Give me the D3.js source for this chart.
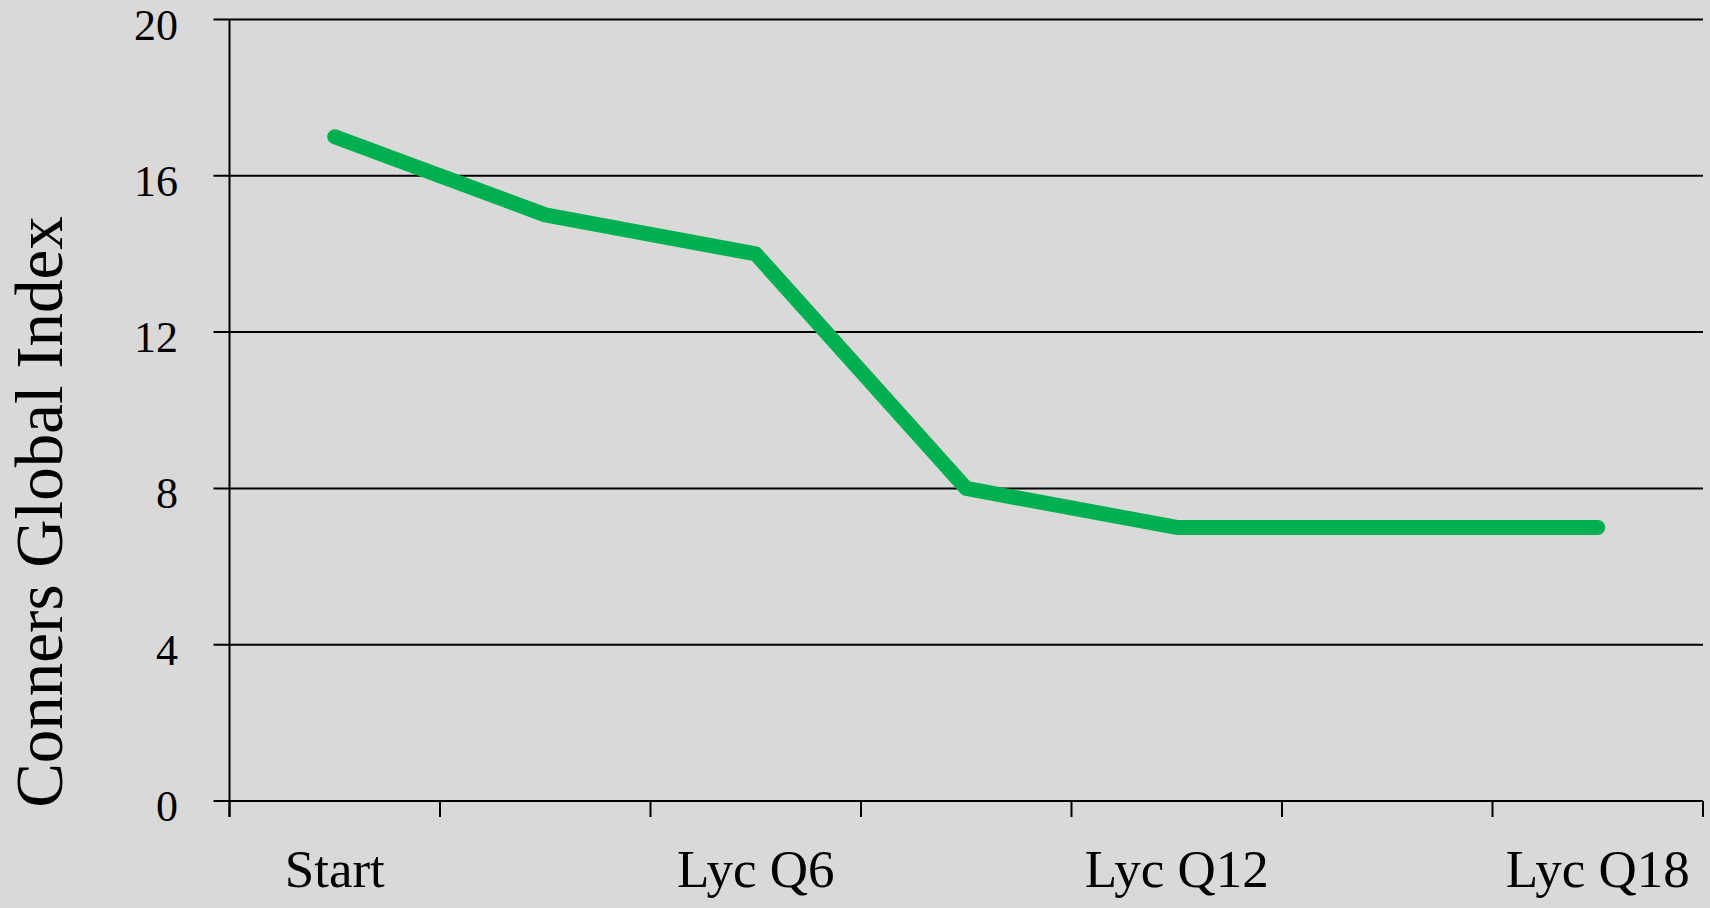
<!DOCTYPE html>
<html>
<head>
<meta charset="utf-8">
<script src="https://cdn.jsdelivr.net/npm/d3@7"></script>
<style>
  html, body { margin: 0; padding: 0; background: #d9d9d9; }
  svg text { font-family: "Liberation Serif", "Times New Roman", serif; fill: #000; }
</style>
</head>
<body>
<svg id="chart"></svg>
<script>
const categories = ["Start", "Lyc Q3", "Lyc Q6", "Lyc Q9", "Lyc Q12", "Lyc Q15", "Lyc Q18"];
const shownLabels = ["Start", "Lyc Q6", "Lyc Q12", "Lyc Q18"];
const conners = [17, 15, 14, 8, 7, 7, 7];
const yTicks = [0, 4, 8, 12, 16, 20];

const width = 1710;
const height = 908;
const plotLeft = 229.5;
const plotRight = 1703;
const plotTop = 19.5;
const plotBottom = 801;

const svg = d3.select("#chart")
  .attr("width", width)
  .attr("height", height)
  .style("display", "block");

svg.append("rect")
  .attr("width", width)
  .attr("height", height)
  .attr("fill", "#d9d9d9");

const x = d3.scaleBand()
  .domain(categories)
  .range([plotLeft, plotRight])
  .padding(0);

const y = d3.scaleLinear()
  .domain([0, 20])
  .range([plotBottom, plotTop]);

// horizontal gridlines, sticking out left like outer ticks
svg.append("g")
  .selectAll("line")
  .data(yTicks)
  .enter().append("line")
    .attr("x1", plotLeft - 16)
    .attr("x2", plotRight)
    .attr("y1", d => y(d))
    .attr("y2", d => y(d))
    .attr("stroke", "#000")
    .attr("stroke-width", 2);

// y tick labels (original uses old-style figures, so they sit a bit low)
svg.append("g")
  .selectAll("text")
  .data(yTicks)
  .enter().append("text")
    .attr("x", 178)
    .attr("y", d => y(d) + 20)
    .attr("text-anchor", "end")
    .style("font-size", "44px")
    .text(d => d);

// vertical axis
svg.append("line")
  .attr("x1", plotLeft).attr("x2", plotLeft)
  .attr("y1", plotTop).attr("y2", plotBottom + 16)
  .attr("stroke", "#000")
  .attr("stroke-width", 2);

// category tick marks at band edges
const edges = categories.map(c => x(c)).concat([x.range()[1]]);
svg.append("g")
  .selectAll("line")
  .data(edges)
  .enter().append("line")
    .attr("x1", d => d)
    .attr("x2", d => d)
    .attr("y1", plotBottom)
    .attr("y2", plotBottom + 16)
    .attr("stroke", "#000")
    .attr("stroke-width", 2);

// category labels (every other one, like the original)
svg.append("g")
  .selectAll("text")
  .data(shownLabels)
  .enter().append("text")
    .attr("x", d => x(d) + x.bandwidth() / 2)
    .attr("y", 887)
    .attr("text-anchor", "middle")
    .style("font-size", "53px")
    .text(d => d);

// axis title
svg.append("text")
  .attr("transform", "translate(62, 512) rotate(-90)")
  .attr("text-anchor", "middle")
  .style("font-size", "67px")
  .text("Conners Global Index");

// the series
const line = d3.line()
  .x((d, i) => x(categories[i]) + x.bandwidth() / 2)
  .y(d => y(d));

svg.append("path")
  .datum(conners)
  .attr("d", line)
  .attr("fill", "none")
  .attr("stroke", "#00b050")
  .attr("stroke-width", 15)
  .attr("stroke-linecap", "round")
  .attr("stroke-linejoin", "round");
</script>
</body>
</html>
